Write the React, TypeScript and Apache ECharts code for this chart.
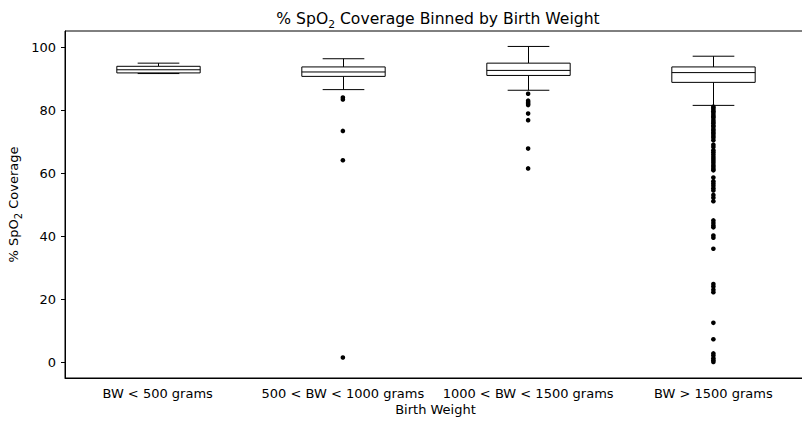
import React, { useEffect, useRef } from "react";
import * as echarts from "echarts";

const categories = ["BW < 500 grams", "500 < BW < 1000 grams", "1000 < BW < 1500 grams", "BW > 1500 grams"];
const whiskerLow = [91.6, 86.5, 86.3, 81.5];
const quartile1 = [91.8, 90.7, 91.0, 88.8];
const medians = [92.8, 92.1, 92.6, 91.9];
const quartile3 = [93.9, 93.7, 94.9, 93.7];
const whiskerHigh = [94.9, 96.3, 100.2, 97.1];

const outliersBin1: number[] = [];
const outliersBin2 = [84.0, 83.4, 73.4, 64.1, 1.5];
const outliersBin3 = [85.2, 83.0, 82.5, 82.0, 81.6, 78.9, 76.8, 67.8, 61.5];
const outliersBin4 = [
  81.1, 80.7, 80.1, 79.6, 79.2, 78.5, 78.0, 77.6, 76.9, 76.3, 75.8, 75.1, 74.7, 74.0, 73.5, 72.9, 72.4, 71.8, 71.2,
  70.4, 69.0, 68.3, 67.3, 66.6, 65.9, 65.2, 64.6, 63.9, 63.3, 62.6, 62.0, 61.4, 60.9,
  58.6, 57.4, 56.7, 56.0, 55.2, 54.5, 53.1, 52.2, 51.1, 45.0, 44.2, 43.4, 42.8, 40.2, 39.5, 36.0,
  24.8, 24.0, 23.0, 22.2, 12.5, 7.3, 2.8, 2.1, 1.3, 0.6, 0.1,
];

const yTicks = [0, 20, 40, 60, 80, 100];
const FONT = "DejaVu Sans";

export default function App() {
  const ref = useRef<HTMLDivElement>(null);
  useEffect(() => {
    document.body.style.margin = "0";
    const chart = echarts.init(ref.current!, null, { renderer: "svg" });
    const boxData = categories.map((_, i) => [i, whiskerLow[i], quartile1[i], medians[i], quartile3[i], whiskerHigh[i]]);
    const outlierData: number[][] = [];
    [outliersBin1, outliersBin2, outliersBin3, outliersBin4].forEach((arr, i) => {
      arr.forEach((v) => outlierData.push([i, v]));
    });
    const subRich = {
      sub: { fontSize: 10, fontFamily: FONT, color: "#000", verticalAlign: "bottom", lineHeight: 20 },
    };
    chart.setOption({
      animation: false,
      backgroundColor: "#fff",
      title: {
        text: "% SpO{sub|2} Coverage Binned by Birth Weight",
        left: 433,
        textAlign: "center",
        top: 3,
        textStyle: {
          fontFamily: FONT,
          fontSize: 15.6,
          fontWeight: "normal",
          color: "#000",
          lineHeight: 20,
          rich: { sub: { fontSize: 10.8, fontFamily: FONT, color: "#000", verticalAlign: "bottom", lineHeight: 22 } },
        },
      },
      grid: {
        left: 65,
        top: 31,
        width: 741,
        height: 347,
        containLabel: false,
        outerBoundsMode: "none",
        show: true,
        borderColor: "#000",
        borderWidth: 1,
        backgroundColor: "transparent",
      },
      xAxis: {
        type: "category",
        data: categories,
        boundaryGap: true,
        axisLine: { onZero: false, lineStyle: { color: "#000", width: 1 } },
        axisTick: { alignWithLabel: true, length: 4, lineStyle: { color: "#000" } },
        axisLabel: { color: "#000", fontSize: 13, fontFamily: FONT, margin: 9, interval: 0, hideOverlap: false },
        splitLine: { show: false },
        name: "Birth Weight",
        nameLocation: "middle",
        nameGap: 25,
        nameMoveOverlap: false,
        nameTextStyle: { color: "#000", fontSize: 13, fontFamily: FONT, verticalAlign: "top" },
      },
      yAxis: {
        type: "value",
        min: -5,
        max: 105.1,
        axisLine: { show: true, onZero: false, lineStyle: { color: "#000", width: 1 } },
        axisTick: { show: true, length: 4, lineStyle: { color: "#000" }, customValues: yTicks },
        axisLabel: { color: "#000", fontSize: 13, fontFamily: FONT, margin: 9, customValues: yTicks },
        splitLine: { show: false },
        name: "% SpO{sub|2} Coverage",
        nameLocation: "middle",
        nameRotate: 90,
        nameGap: 42,
        nameMoveOverlap: false,
        nameTextStyle: { color: "#000", fontSize: 13, fontFamily: FONT, lineHeight: 18, rich: subRich },
      },
      series: [
        {
          type: "custom",
          data: boxData,
          encode: { x: 0, y: [1, 2, 3, 4, 5] },
          z: 2,
          renderItem: (params: any, api: any) => {
            const idx = api.value(0);
            const lo = api.coord([idx, api.value(1)]);
            const q1 = api.coord([idx, api.value(2)]);
            const med = api.coord([idx, api.value(3)]);
            const q3 = api.coord([idx, api.value(4)]);
            const hi = api.coord([idx, api.value(5)]);
            const bw = api.size([1, 0])[0] * 0.45;
            const cx = Math.round(lo[0]) + 0.5;
            const stroke = { stroke: "#000", lineWidth: 1, fill: "none" };
            return {
              type: "group",
              children: [
                { type: "line", shape: { x1: cx, y1: q3[1], x2: cx, y2: hi[1] }, style: stroke },
                { type: "line", shape: { x1: cx, y1: q1[1], x2: cx, y2: lo[1] }, style: stroke },
                { type: "line", shape: { x1: cx - bw / 4, y1: hi[1], x2: cx + bw / 4, y2: hi[1] }, style: stroke },
                { type: "line", shape: { x1: cx - bw / 4, y1: lo[1], x2: cx + bw / 4, y2: lo[1] }, style: stroke },
                {
                  type: "rect",
                  shape: { x: cx - bw / 2, y: q3[1], width: bw, height: q1[1] - q3[1] },
                  style: { stroke: "#000", lineWidth: 1, fill: "#fff" },
                },
                { type: "line", shape: { x1: cx - bw / 2, y1: med[1], x2: cx + bw / 2, y2: med[1] }, style: stroke },
              ],
            };
          },
        },
        {
          type: "scatter",
          data: outlierData,
          symbol: "circle",
          symbolSize: 4.6,
          itemStyle: { color: "#000", opacity: 1 },
          z: 3,
        },
      ],
    });
    return () => chart.dispose();
  }, []);
  return <div ref={ref} style={{ width: 802, height: 423 }} />;
}
